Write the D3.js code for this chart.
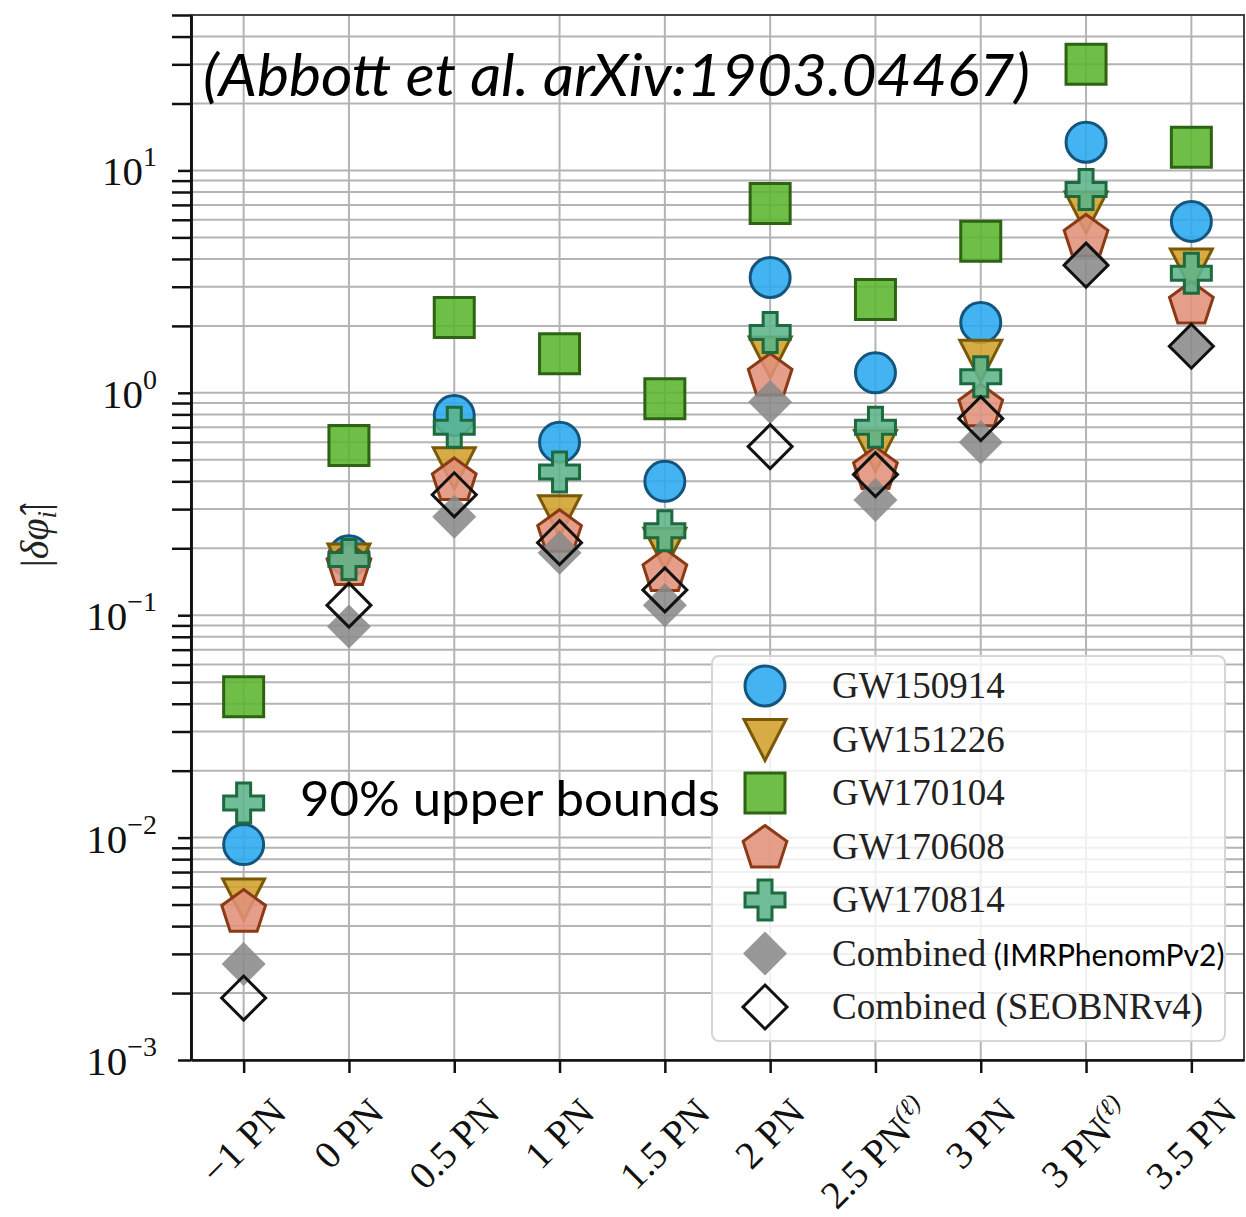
<!DOCTYPE html>
<html>
<head>
<meta charset="utf-8">
<script src="https://cdn.jsdelivr.net/npm/d3@7"></script>
<style>
	body { margin: 0; background: #fff; }
	svg { display: block; }
</style>
</head>
<body>
<svg id="chart"></svg>
<script>
// PN orders (keys) and their tick labels
const categories = ['-1PN', '0PN', '0.5PN', '1PN', '1.5PN', '2PN', '2.5PNl', '3PN', '3PNl', '3.5PN'];
const tickLabels = ['\u22121 PN', '0 PN', '0.5 PN', '1 PN', '1.5 PN', '2 PN', '2.5 PN', '3 PN', '3 PN', '3.5 PN'];
const tickSups = ['', '', '', '', '', '', '(\u2113)', '', '(\u2113)', ''];

// 90% upper bounds on |delta phi_i|
const gw150914 = [0.0093, 0.185, 0.79, 0.60, 0.40, 3.3, 1.23, 2.07, 13.4, 5.9];
const gw151226 = [0.0053, 0.17, 0.46, 0.28, 0.20, 1.45, 0.55, 1.4, 6.5, 3.6];
const gw170104 = [0.043, 0.58, 2.18, 1.50, 0.94, 7.1, 2.63, 4.8, 30, 12.7];
const gw170608 = [0.0047, 0.17, 0.41, 0.24, 0.16, 1.21, 0.46, 0.88, 5.1, 2.55];
const gw170814 = [0.0143, 0.178, 0.70, 0.44, 0.24, 1.87, 0.70, 1.18, 8.2, 3.45];
const combinedIMR = [0.0027, 0.089, 0.277, 0.191, 0.111, 0.91, 0.33, 0.60, 3.85, 1.62];
const combinedSEOB = [0.0019, 0.111, 0.348, 0.212, 0.130, 0.573, 0.429, 0.766, 3.75, 1.62];

const majorTicks = [1e-3, 1e-2, 1e-1, 1e0, 1e1];
const majorExps = ['\u22123', '\u22122', '\u22121', '0', '1'];

const series = [
	{ name: 'GW150914', values: gw150914, shape: 'circle', fill: '#2aa9f0', stroke: '#14557e' },
	{ name: 'GW151226', values: gw151226, shape: 'triangle', fill: '#d2a12c', stroke: '#7a5806' },
	{ name: 'GW170104', values: gw170104, shape: 'square', fill: '#5ab52e', stroke: '#2d6312' },
	{ name: 'GW170608', values: gw170608, shape: 'pentagon', fill: '#e0917a', stroke: '#8c3a16' },
	{ name: 'GW170814', values: gw170814, shape: 'plus', fill: '#5db48b', stroke: '#1c6a3e' },
	{ name: 'Combined', extra: '(IMRPhenomPv2)', values: combinedIMR, shape: 'diamond', fill: '#8a8a8a', stroke: 'none' },
	{ name: 'Combined (SEOBNRv4)', values: combinedSEOB, shape: 'diamond', fill: 'none', stroke: '#111' },
];

const width = 1246, height = 1217;
const plot = { left: 191, right: 1244, top: 15, bottom: 1060 };
const serif = '"Liberation Serif", "Times New Roman", serif';
const sans = 'Lato, "Open Sans", sans-serif';

// marker outlines, centred on 0,0
function markerPath(shape) {
	if (shape === 'circle') return 'M20,0A20,20 0 1,1 -20,0A20,20 0 1,1 20,0Z';
	if (shape === 'triangle') return 'M-21,-20L21,-20L0,21Z';
	if (shape === 'square') return 'M-20,-20H20V20H-20Z';
	if (shape === 'diamond') return 'M0,-22L22,0L0,22L-22,0Z';
	if (shape === 'plus') {
		const a = 20, b = 7;
		return `M${-b},${-a}H${b}V${-b}H${a}V${b}H${b}V${a}H${-b}V${b}H${-a}V${-b}H${-b}Z`;
	}
	// pentagon
	const R = 23;
	const pts = d3.range(5).map(k => {
		const t = (-90 + 72 * k) * Math.PI / 180;
		return [R * Math.cos(t), R * Math.sin(t) + 2];
	});
	return 'M' + pts.map(p => p.join(',')).join('L') + 'Z';
}

const svg = d3.select('#chart')
	.attr('width', width)
	.attr('height', height);

const x = d3.scalePoint()
	.domain(categories)
	.range([plot.left, plot.right])
	.padding(0.5);

const y = d3.scaleLog()
	.domain([1e-3, 50])
	.range([plot.bottom, plot.top]);

// minor tick positions 2..9 x 10^k
const minorTicks = [];
[-3, -2, -1, 0, 1].forEach(e => {
	d3.range(2, 10).forEach(k => {
		const v = k * Math.pow(10, e);
		if (v <= 50.0001) minorTicks.push(v);
	});
});

// grid
const grid = svg.append('g').attr('stroke', '#b4b4b4').attr('stroke-width', 2);
grid.selectAll('line.h')
	.data(majorTicks.concat(minorTicks))
	.join('line')
	.attr('class', 'h')
	.attr('x1', plot.left).attr('x2', plot.right)
	.attr('y1', d => y(d)).attr('y2', d => y(d));
grid.selectAll('line.v')
	.data(categories)
	.join('line')
	.attr('class', 'v')
	.attr('x1', d => x(d)).attr('x2', d => x(d))
	.attr('y1', plot.top).attr('y2', plot.bottom);

// frame
svg.append('rect')
	.attr('x', plot.left).attr('y', plot.top)
	.attr('width', plot.right - plot.left).attr('height', plot.bottom - plot.top)
	.attr('fill', 'none').attr('stroke', '#444').attr('stroke-width', 2);

// y axis ticks (minor longer than major, as in the figure)
const yMinor = svg.append('g')
	.attr('transform', `translate(${plot.left},0)`)
	.call(d3.axisLeft(y).tickValues(minorTicks).tickSize(19).tickSizeOuter(0).tickFormat(''));
const yMajor = svg.append('g')
	.attr('transform', `translate(${plot.left},0)`)
	.call(d3.axisLeft(y).tickValues(majorTicks).tickSize(13).tickSizeOuter(0).tickFormat(''));
[yMinor, yMajor].forEach(g => {
	g.select('.domain').attr('stroke', '#111').attr('stroke-width', 2.5);
	g.selectAll('.tick line').attr('stroke', '#111').attr('stroke-width', 2.5);
});

// y tick labels 10^k
const yLab = svg.append('g')
	.selectAll('text')
	.data(majorTicks)
	.join('text')
	.attr('x', 157)
	.attr('y', d => y(d) + 15)
	.attr('text-anchor', 'end')
	.attr('font-family', serif)
	.attr('font-size', 41)
	.attr('fill', '#111');
yLab.append('tspan').text('10');
yLab.append('tspan')
	.attr('dy', -19)
	.attr('font-size', 28)
	.text((d, i) => majorExps[i]);

// x axis
const xAxis = svg.append('g')
	.attr('transform', `translate(0,${plot.bottom})`)
	.call(d3.axisBottom(x).tickSize(13).tickSizeOuter(0).tickFormat(''));
xAxis.select('.domain').attr('stroke', '#111').attr('stroke-width', 2.5);
xAxis.selectAll('.tick line').attr('stroke', '#111').attr('stroke-width', 2.5);

// rotated x labels, centred under each tick
categories.forEach((c, i) => {
	const t = svg.append('text')
		.attr('text-anchor', 'middle')
		.attr('dy', '0.33em')
		.attr('font-family', serif)
		.attr('font-size', 39)
		.attr('fill', '#111');
	t.append('tspan').text(tickLabels[i]);
	if (tickSups[i]) {
		t.append('tspan')
			.attr('dy', -15)
			.attr('font-size', 25)
			.attr('font-style', 'italic')
			.text(tickSups[i]);
	}
	const len = t.node().getComputedTextLength();
	const yc = 1097 + (len + 25) / (2 * Math.SQRT2);
	t.attr('transform', `translate(${x(c)},${yc}) rotate(-45)`);
});

// y axis label
const yTitle = svg.append('text')
	.attr('transform', 'translate(48,535) rotate(-90)')
	.attr('text-anchor', 'middle')
	.attr('font-family', serif)
	.attr('font-size', 40)
	.attr('fill', '#222');
yTitle.append('tspan').text('|');
yTitle.append('tspan').attr('font-style', 'italic').text('\u03b4\u03c6\u0302');
yTitle.append('tspan').attr('font-style', 'italic').attr('font-size', 27).attr('dy', 8).text('i');
yTitle.append('tspan').attr('dy', -8).text('|');

// markers, one layer per event
series.forEach(s => {
	svg.append('g')
		.selectAll('path')
		.data(s.values.map((v, i) => ({ cat: categories[i], v: v })))
		.join('path')
		.attr('d', markerPath(s.shape))
		.attr('transform', d => `translate(${x(d.cat)},${y(d.v)})`)
		.attr('fill', s.fill)
		.attr('fill-opacity', s.fill === 'none' ? 0 : 0.88)
		.attr('stroke', s.stroke)
		.attr('stroke-width', 3)
		.attr('stroke-linejoin', 'miter');
});

// legend
const legend = svg.append('g');
legend.append('rect')
	.attr('x', 712).attr('y', 656)
	.attr('width', 513).attr('height', 385)
	.attr('rx', 7)
	.attr('fill', '#fff').attr('fill-opacity', 0.8)
	.attr('stroke', '#d6d6d6').attr('stroke-width', 2);

series.forEach((s, i) => {
	const ry = 686 + i * 53.5;
	legend.append('path')
		.attr('d', markerPath(s.shape))
		.attr('transform', `translate(765,${ry})`)
		.attr('fill', s.fill)
		.attr('fill-opacity', s.fill === 'none' ? 0 : 0.88)
		.attr('stroke', s.stroke)
		.attr('stroke-width', 3);
	const t = legend.append('text')
		.attr('x', 832)
		.attr('y', ry + 12)
		.attr('font-family', serif)
		.attr('font-size', 37)
		.attr('fill', '#222');
	t.append('tspan').text(s.name);
	if (s.extra) {
		t.append('tspan')
			.attr('font-family', sans)
			.attr('font-size', 30)
			.attr('fill', '#000')
			.text(' ' + s.extra);
	}
});

// annotations
svg.append('text')
	.attr('x', 203).attr('y', 96)
	.attr('font-family', sans)
	.attr('font-style', 'italic')
	.attr('font-size', 58)
	.attr('textLength', 827)
	.attr('lengthAdjust', 'spacingAndGlyphs')
	.attr('fill', '#000')
	.text('(Abbott et al. arXiv:1903.04467)');

svg.append('text')
	.attr('x', 300).attr('y', 816)
	.attr('font-family', sans)
	.attr('font-size', 48)
	.attr('textLength', 420)
	.attr('lengthAdjust', 'spacingAndGlyphs')
	.attr('fill', '#000')
	.text('90% upper bounds');
</script>
</body>
</html>
